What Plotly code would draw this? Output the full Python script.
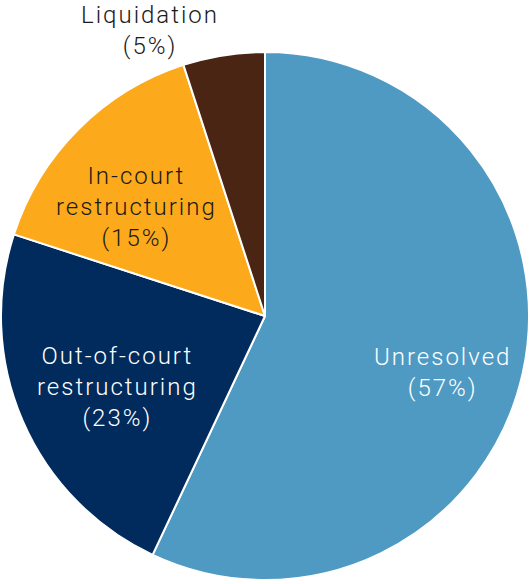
import plotly.graph_objects as go

# Share of cases by outcome (percent)
labels = ["Unresolved", "Out-of-court<br>restructuring", "In-court<br>restructuring", "Liquidation"]
values = [57, 23, 15, 5]
colors = ["#4F9AC3", "#002B5C", "#FCAA1B", "#4B2513"]
text_colors = ["white", "white", "#1A1A1A", "#1A1A1A"]
# label anchor positions in paper coordinates
label_pos = [(0.834, 0.363), (0.222, 0.337), (0.258, 0.646), (0.283, 0.947)]

W, H = 531, 584
cx, cy, r = 265, 316, 264

fig = go.Figure(go.Pie(
    labels=labels,
    values=values,
    sort=False,
    direction="clockwise",
    rotation=0,
    marker=dict(colors=colors, line=dict(color="white", width=2)),
    textinfo="none",
    hoverinfo="label+percent",
    showlegend=False,
    domain=dict(
        x=[(cx - r) / W, (cx + r) / W],
        y=[(H - cy - r) / H, (H - cy + r) / H],
    ),
))


def tracked(s):
    # widen letter spacing line by line
    return "<br>".join(
        f'<span style="letter-spacing:2px">{part}</span>' for part in s.split("<br>")
    )


total = sum(values)
for lab, val, col, (x, y) in zip(labels, values, text_colors, label_pos):
    fig.add_annotation(
        x=x, y=y, xref="paper", yref="paper",
        text=tracked(f"{lab}<br>({round(val / total * 100)}%)"),
        showarrow=False,
        xanchor="center", yanchor="middle",
        font=dict(family="Roboto", size=24, color=col, weight=300),
    )

fig.update_layout(
    width=W, height=H,
    margin=dict(l=0, r=0, t=0, b=0),
    paper_bgcolor="white",
    plot_bgcolor="white",
)

fig.write_html("out.html")
